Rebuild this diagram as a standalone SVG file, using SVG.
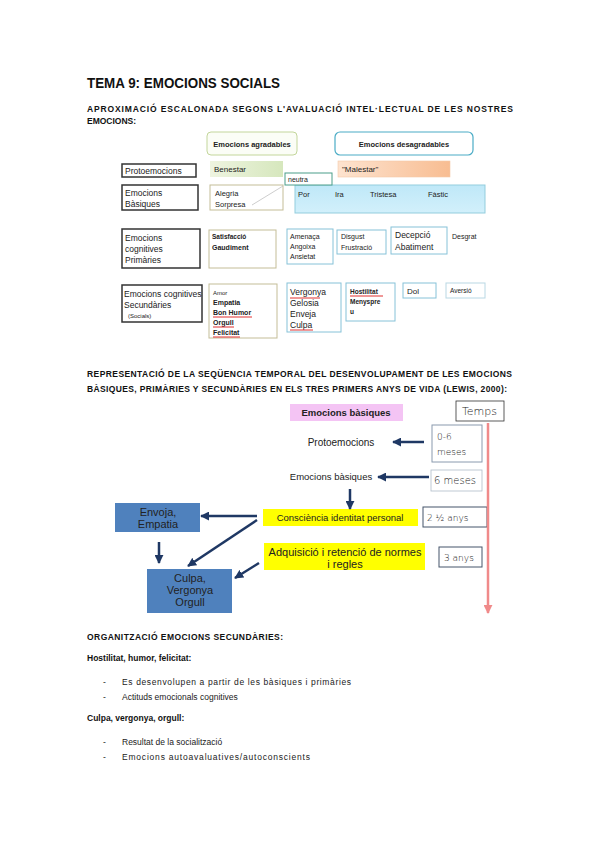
<svg xmlns="http://www.w3.org/2000/svg" width="599" height="848" viewBox="0 0 599 848">
<defs>
<linearGradient id="gGreen" x1="0" y1="0" x2="1" y2="0"><stop offset="0" stop-color="#eef4e0"/><stop offset="1" stop-color="#d6e7bd"/></linearGradient>
<linearGradient id="gOrange" x1="0" y1="0" x2="1" y2="0"><stop offset="0" stop-color="#fde3cf"/><stop offset="1" stop-color="#f8bd92"/></linearGradient>
<linearGradient id="gBlue" x1="0" y1="0" x2="0" y2="1"><stop offset="0" stop-color="#bfe8f8"/><stop offset="1" stop-color="#d2f0fb"/></linearGradient>
<marker id="aNavy" viewBox="0 0 10 10" refX="9" refY="5" markerWidth="9" markerHeight="9" markerUnits="userSpaceOnUse" orient="auto"><path d="M0,0 L10,5 L0,10 z" fill="#1f3864"/></marker>
<marker id="aRed" viewBox="0 0 10 10" refX="9" refY="5" markerWidth="9" markerHeight="9" markerUnits="userSpaceOnUse" orient="auto"><path d="M0,0 L10,5 L0,10 z" fill="#f08a8a"/></marker>
</defs>
<style>
.h{font-family:"Liberation Sans",Arial,sans-serif;font-weight:bold;fill:#111}
.b{font-family:"Liberation Sans",Arial,sans-serif;fill:#222}
.bb{font-family:"Liberation Sans",Arial,sans-serif;font-weight:bold;fill:#222}
.blk{fill:#fff;stroke:#333;stroke-width:1.5}
.khk{fill:#fff;stroke:#c4bd97;stroke-width:1}
.blu{fill:#fff;stroke:#86c2d8;stroke-width:1}
.ul{stroke:#e03030;stroke-width:1;fill:none}
.a{font-family:"Liberation Sans",Arial,sans-serif;fill:#222}
.hw{font-family:"DejaVu Sans",sans-serif;font-weight:300;fill:#1a1a1a}
.con{stroke:#1f3864;stroke-width:2.5;fill:none;marker-end:url(#aNavy)}
.tbox{fill:#fff;stroke:#8a9aae;stroke-width:1}
</style>
<rect width="599" height="848" fill="#fff"/>

<!-- headings -->
<text class="h" x="87" y="88" font-size="15" textLength="193" lengthAdjust="spacingAndGlyphs">TEMA 9: EMOCIONS SOCIALS</text>
<text class="h" x="87" y="112" font-size="8.5" textLength="426" lengthAdjust="spacing">APROXIMACIÓ ESCALONADA SEGONS L'AVALUACIÓ INTEL·LECTUAL DE LES NOSTRES</text>
<text class="h" x="87" y="124" font-size="8.5">EMOCIONS:</text>

<!-- table 1 -->
<g id="agradables"><rect x="207" y="132" width="90" height="23" rx="4" fill="#fbfdf6" stroke="#c3d69b"/><text class="bb" x="252" y="147" font-size="7.5" text-anchor="middle">Emocions agradables</text></g>
<g id="desagradables"><rect x="335" y="132" width="138" height="23" rx="5" fill="#fff" stroke="#4bacc6" stroke-width="1.2"/><text class="bb" x="404" y="147" font-size="7.5" text-anchor="middle">Emocions desagradables</text></g>
<g id="protoemocions"><rect class="blk" x="122" y="164" width="74" height="13"/><text class="b" x="125" y="174" font-size="8.5">Protoemocions</text></g>
<g id="benestar"><rect x="210" y="161" width="73" height="16" fill="url(#gGreen)"/><text class="b" x="214" y="172" font-size="8">Benestar</text></g>
<g id="malestar"><rect x="338" y="161" width="112" height="16" fill="url(#gOrange)" stroke="#f4c9a8" stroke-width="0.6"/><text class="b" x="342" y="172" font-size="8">"Malestar"</text></g>
<g id="basiques"><rect class="blk" x="122" y="185" width="76" height="25"/><text class="b" x="125" y="196" font-size="8.5">Emocions</text><text class="b" x="125" y="207" font-size="8.5">Bàsiques</text></g>
<g id="alegria"><rect class="khk" x="210" y="185" width="73" height="25"/><text class="b" x="215" y="196" font-size="7.5">Alegria</text><text class="b" x="215" y="207" font-size="7.5">Sorpresa</text><line x1="252" y1="205" x2="283" y2="186" stroke="#c0c0c0" stroke-width="0.8"/></g>
<g id="negatives"><rect x="295" y="185" width="190" height="28" fill="url(#gBlue)" stroke="#93cddd"/><text class="b" x="298" y="197" font-size="7.5">Por</text><text class="b" x="335" y="197" font-size="7.5">Ira</text><text class="b" x="370" y="197" font-size="7.5">Tristesa</text><text class="b" x="428" y="197" font-size="7.5">Fàstic</text></g>
<g id="neutra"><rect x="285" y="173" width="47" height="12" fill="#fff" stroke="#4a9e8a"/><text class="b" x="288" y="182" font-size="7">neutra</text></g>

<g id="primaries"><rect class="blk" x="122" y="229" width="78" height="39"/><text class="b" x="125" y="241" font-size="8.5">Emocions</text><text class="b" x="125" y="252" font-size="8.5">cognitives</text><text class="b" x="125" y="263" font-size="8.5">Primàries</text></g>
<g id="satisfaccio"><rect class="khk" x="209" y="230" width="67" height="38"/><text class="bb" x="212" y="239" font-size="6.5">Satisfacció</text><text class="bb" x="212" y="250" font-size="7">Gaudiment</text></g>
<g id="amenaca"><rect class="blu" x="287" y="229" width="46" height="35"/><text class="b" x="290" y="239" font-size="7">Amenaça</text><text class="b" x="290" y="249" font-size="7">Angoixa</text><text class="b" x="290" y="259" font-size="7">Ansietat</text></g>
<g id="disgust"><rect class="blu" x="337" y="230" width="49" height="24"/><text class="b" x="341" y="239" font-size="7">Disgust</text><text class="b" x="341" y="250" font-size="7">Frustració</text></g>
<g id="decepcio"><rect class="blu" x="391" y="227" width="56" height="27"/><text class="b" x="395" y="238" font-size="8.5">Decepció</text><text class="b" x="395" y="250" font-size="8.5">Abatiment</text></g>
<g id="desgrat"><text class="b" x="452" y="239" font-size="7">Desgrat</text></g>

<g id="secundaries"><rect class="blk" x="122" y="285" width="80" height="37"/><text class="b" x="124" y="297" font-size="8.5">Emocions cognitives</text><text class="b" x="124" y="308" font-size="8.5">Secundàries</text><text class="b" x="128" y="318" font-size="6">(Socials)</text></g>
<g id="amor"><rect class="khk" x="209" y="284" width="68" height="54"/><text class="b" x="213" y="295" font-size="6">Amor</text><text class="bb" x="213" y="305" font-size="7">Empatia</text><text class="bb" x="213" y="315" font-size="7">Bon Humor</text><text class="bb" x="213" y="325" font-size="7">Orgull</text><text class="bb" x="213" y="335" font-size="7">Felicitat</text><path class="ul" d="M213,317 L252,317 M213,327 L234,327 M213,337 L240,337"/></g>
<g id="vergonya"><rect class="blu" x="287" y="283" width="54" height="49"/><text class="b" x="290" y="295" font-size="8.5">Vergonya</text><text class="b" x="290" y="306" font-size="8.5">Gelosia</text><text class="b" x="290" y="317" font-size="8.5">Enveja</text><text class="b" x="290" y="328" font-size="8.5">Culpa</text><path class="ul" d="M290,298 L320,298 M290,330 L313,330"/></g>
<g id="hostilitat"><rect class="blu" x="346" y="283" width="49" height="38"/><text class="bb" x="350" y="294" font-size="6.5">Hostilitat</text><text class="bb" x="350" y="304" font-size="6.5">Menyspre</text><text class="bb" x="350" y="314" font-size="6.5">u</text><path class="ul" d="M350,296 L383,296"/></g>
<g id="dol"><rect class="blu" x="403" y="283" width="33" height="15"/><text class="b" x="407" y="294" font-size="8">Dol</text></g>
<g id="aversio"><rect x="446" y="283" width="39" height="15" fill="#fff" stroke="#b9d8e4"/><text class="b" x="450" y="293" font-size="6.5">Aversió</text></g>

<!-- section 2 heading -->
<text class="h" x="87" y="377" font-size="8.5" textLength="425" lengthAdjust="spacing">REPRESENTACIÓ DE LA SEQÜENCIA TEMPORAL DEL DESENVOLUPAMENT DE LES EMOCIONS</text>
<text class="h" x="87" y="392" font-size="8.5" textLength="420" lengthAdjust="spacing">BÀSIQUES, PRIMÀRIES Y SECUNDÀRIES EN ELS TRES PRIMERS ANYS DE VIDA (LEWIS, 2000):</text>

<!-- diagram 2 -->
<g id="emocions-basiques-title"><rect x="290" y="404" width="113" height="17" fill="#f4c4f4"/><text class="a" x="346" y="416" font-size="9.5" font-weight="bold" text-anchor="middle">Emocions bàsiques</text></g>
<g id="temps"><rect x="456" y="401" width="48" height="20" fill="#fff" stroke="#333" stroke-width="0.8"/><text class="hw" x="462" y="415" font-size="11">Temps</text></g>
<g id="t-0-6"><rect class="tbox" x="432" y="425" width="50" height="37"/><text class="hw" x="437" y="440" font-size="9">0-6</text><text class="hw" x="437" y="455" font-size="9">meses</text></g>
<g id="t-6"><rect x="431" y="470" width="51" height="21" fill="#fff" stroke="#b0bcc8" stroke-width="0.8"/><text class="hw" x="434" y="484" font-size="10">6 meses</text></g>
<g id="t-2-5"><rect x="423" y="507" width="64" height="20" fill="#fff" stroke="#44546a" stroke-width="1"/><text class="hw" x="427" y="521" font-size="9">2 ½ anys</text></g>
<g id="t-3"><rect x="439" y="547" width="43" height="20" fill="#fff" stroke="#44546a" stroke-width="1"/><text class="hw" x="444" y="561" font-size="9">3 anys</text></g>

<g id="protoemocions2"><text class="a" x="341" y="446" font-size="10" text-anchor="middle">Protoemocions</text></g>
<g id="emocions-basiques"><text class="a" x="331" y="480" font-size="9.5" text-anchor="middle">Emocions bàsiques</text></g>
<g id="consciencia"><rect x="263" y="509" width="155" height="17" fill="#ffff00"/><text class="a" x="340" y="521" font-size="9.5" text-anchor="middle">Consciència identitat personal</text></g>
<g id="adquisicio"><rect x="264" y="543" width="161" height="27" fill="#ffff00"/><text class="a" x="345" y="556" font-size="11" text-anchor="middle">Adquisició i retenció de normes</text><text class="a" x="345" y="568" font-size="11" text-anchor="middle">i regles</text></g>
<g id="envoja"><rect x="115" y="503" width="85" height="29" fill="#4f81bd"/><text class="a" x="158" y="516" font-size="11" text-anchor="middle" fill="#14213d">Envoja,</text><text class="a" x="158" y="528" font-size="11" text-anchor="middle" fill="#14213d">Empatia</text></g>
<g id="culpa"><rect x="147" y="569" width="85" height="44" fill="#4f81bd"/><text class="a" x="190" y="582" font-size="11" text-anchor="middle" fill="#14213d">Culpa,</text><text class="a" x="190" y="594" font-size="11" text-anchor="middle" fill="#14213d">Vergonya</text><text class="a" x="190" y="606" font-size="11" text-anchor="middle" fill="#14213d">Orgull</text></g>

<g id="connectors">
<line x1="488" y1="423" x2="488" y2="613" stroke="#f08a8a" stroke-width="2.5" marker-end="url(#aRed)"/>
<line class="con" x1="424" y1="442" x2="393" y2="442"/>
<line class="con" x1="429" y1="477" x2="378" y2="477"/>
<line class="con" x1="350" y1="489" x2="350" y2="509"/>
<line class="con" x1="257" y1="516" x2="201" y2="516"/>
<line class="con" x1="257" y1="520" x2="188" y2="566"/>
<line class="con" x1="159" y1="542" x2="159" y2="563"/>
<line class="con" x1="259" y1="563" x2="235" y2="578"/>
</g>

<!-- bottom text -->
<text class="h" x="87" y="640" font-size="8.5" textLength="196" lengthAdjust="spacing">ORGANITZACIÓ EMOCIONS SECUNDÀRIES:</text>
<text class="h" x="87" y="661" font-size="8.5">Hostilitat, humor, felicitat:</text>
<text class="b" x="103" y="685" font-size="8.5">-</text>
<text class="b" x="122" y="685" font-size="8.5" textLength="229" lengthAdjust="spacing">Es desenvolupen a partir de les bàsiques i primàries</text>
<text class="b" x="103" y="700" font-size="8.5">-</text>
<text class="b" x="122" y="700" font-size="8.5">Actituds emocionals cognitives</text>
<text class="h" x="87" y="721" font-size="8.5">Culpa, vergonya, orgull:</text>
<text class="b" x="103" y="745" font-size="8.5">-</text>
<text class="b" x="122" y="745" font-size="8.5">Resultat de la socialització</text>
<text class="b" x="103" y="760" font-size="8.5">-</text>
<text class="b" x="122" y="760" font-size="8.5" textLength="188" lengthAdjust="spacing">Emocions autoavaluatives/autoconscients</text>
</svg>
